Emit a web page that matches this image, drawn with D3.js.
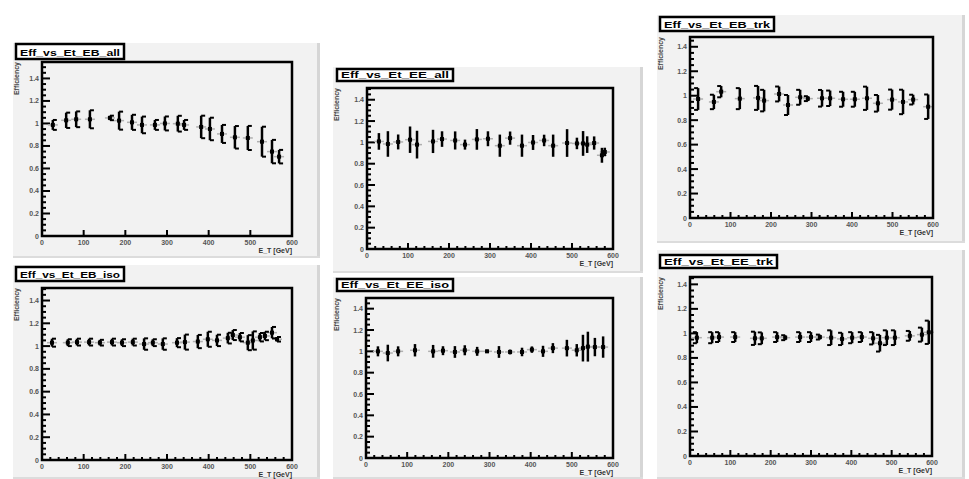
<!DOCTYPE html>
<html>
<head>
<meta charset="utf-8">
<script src="https://cdn.jsdelivr.net/npm/d3@7"></script>
<style>
  body { margin: 0; background: #fff; }
  svg { display: block; font-family: "Liberation Sans", Arial, sans-serif; }
</style>
</head>
<body>
<svg id="chart" width="969" height="479"></svg>
<script>
// ---- data ----
const titles = ["Eff_vs_Et_EB_all", "Eff_vs_Et_EE_all", "Eff_vs_Et_EB_trk", "Eff_vs_Et_EB_iso", "Eff_vs_Et_EE_iso", "Eff_vs_Et_EE_trk"];
const yTitles = ["Efficiency", "Efficiency", "Efficiency", "Efficiency", "Efficiency", "Efficiency"];
const xTitles = ["E_T [GeV]", "E_T [GeV]", "E_T [GeV]", "E_T [GeV]", "E_T [GeV]", "E_T [GeV]"];
const xTicks = [0, 100, 200, 300, 400, 500, 600];
const yTicks = [0, 0.2, 0.4, 0.6, 0.8, 1, 1.2, 1.4];
const yMax = [1.546, 1.51, 1.48, 1.51, 1.5, 1.46];

const x1 = [26, 58, 82, 115, 163, 185, 216, 240, 271, 295, 326, 341, 382, 403, 432, 463, 494, 528, 552, 569];
const y1 = [0.987, 1.028, 1.037, 1.037, 1.049, 1.025, 1.01, 0.987, 0.987, 1.0, 0.998, 0.987, 0.969, 0.951, 0.907, 0.877, 0.871, 0.838, 0.75, 0.705];
const e1 = [0.044, 0.068, 0.07, 0.08, 0.02, 0.08, 0.067, 0.074, 0.044, 0.062, 0.07, 0.044, 0.1, 0.1, 0.08, 0.1, 0.107, 0.133, 0.104, 0.06];

const x2 = [29, 51, 76, 105, 122, 161, 183, 215, 239, 268, 295, 324, 349, 378, 405, 432, 454, 488, 512, 527, 537, 554, 573, 580];
const y2 = [1.009, 0.985, 1.004, 1.025, 0.979, 1.009, 1.031, 1.018, 0.979, 1.028, 1.034, 0.969, 1.04, 0.969, 0.999, 1.018, 0.969, 0.994, 0.99, 0.99, 0.979, 0.994, 0.879, 0.91];
const e2 = [0.078, 0.12, 0.07, 0.124, 0.13, 0.109, 0.073, 0.085, 0.047, 0.097, 0.07, 0.104, 0.062, 0.104, 0.07, 0.054, 0.104, 0.13, 0.054, 0.116, 0.078, 0.062, 0.07, 0.04];

const x3 = [20, 59, 77, 123, 168, 183, 220, 242, 272, 291, 326, 346, 378, 407, 437, 464, 499, 526, 551, 588];
const y3 = [0.973, 0.949, 1.033, 0.976, 0.982, 0.96, 1.014, 0.924, 0.987, 0.976, 0.979, 0.979, 0.971, 0.971, 0.979, 0.938, 0.968, 0.949, 0.968, 0.91];
const e3 = [0.089, 0.059, 0.046, 0.086, 0.098, 0.088, 0.061, 0.082, 0.061, 0.02, 0.068, 0.063, 0.061, 0.061, 0.095, 0.068, 0.082, 0.1, 0.04, 0.1];

const x4 = [24, 62, 84, 113, 139, 168, 192, 218, 245, 266, 290, 324, 343, 374, 398, 420, 446, 458, 475, 494, 506, 523, 535, 552, 564];
const y4 = [1.03, 1.03, 1.035, 1.035, 1.03, 1.035, 1.03, 1.035, 1.018, 1.03, 1.018, 1.03, 1.035, 1.04, 1.06, 1.05, 1.07, 1.097, 1.078, 1.03, 1.049, 1.078, 1.089, 1.118, 1.06];
const e4 = [0.035, 0.03, 0.03, 0.03, 0.025, 0.03, 0.03, 0.03, 0.05, 0.03, 0.05, 0.04, 0.066, 0.058, 0.066, 0.05, 0.047, 0.044, 0.037, 0.066, 0.08, 0.037, 0.037, 0.05, 0.02];

const x5 = [29, 53, 78, 119, 163, 187, 216, 240, 270, 294, 323, 350, 379, 403, 430, 454, 488, 512, 527, 539, 556, 576];
const y5 = [1.0, 0.984, 1.0, 1.01, 1.0, 1.006, 0.994, 1.01, 1.0, 1.0, 0.994, 0.994, 0.994, 1.016, 1.0, 1.03, 1.03, 1.01, 1.03, 1.044, 1.04, 1.04];
const e5 = [0.047, 0.078, 0.047, 0.058, 0.06, 0.042, 0.055, 0.047, 0.042, 0.016, 0.055, 0.023, 0.04, 0.03, 0.052, 0.047, 0.078, 0.058, 0.125, 0.14, 0.086, 0.1];

const x6 = [17, 55, 72, 112, 161, 178, 216, 236, 273, 300, 322, 350, 377, 402, 426, 454, 471, 488, 508, 545, 575, 592];
const y6 = [0.965, 0.965, 0.97, 0.97, 0.96, 0.96, 0.97, 0.965, 0.97, 0.97, 0.97, 0.965, 0.955, 0.965, 0.97, 0.96, 0.92, 0.965, 0.965, 0.98, 0.99, 1.009];
const e6 = [0.045, 0.045, 0.04, 0.04, 0.054, 0.048, 0.04, 0.02, 0.04, 0.04, 0.02, 0.06, 0.05, 0.045, 0.04, 0.05, 0.068, 0.06, 0.06, 0.04, 0.057, 0.095];

const series = [[x1, y1, e1], [x2, y2, e2], [x3, y3, e3], [x4, y4, e4], [x5, y5, e5], [x6, y6, e6]];

// ---- layout of the six pads (pixels) ----
const pads = [
  { pad: [13, 43, 320, 258], frame: [42, 62, 292, 236], bracket: 1, xMinor: false, title: [16, 44, 124, 59] },
  { pad: [333, 67, 643, 273], frame: [367, 88, 613, 249], bracket: 0, xMinor: true, title: [337, 69, 453, 81] },
  { pad: [657, 15, 965, 243], frame: [690, 37, 933, 218], bracket: -1, xMinor: true, title: [660, 17, 774, 31] },
  { pad: [13, 265, 320, 479], frame: [42, 288, 292, 460], bracket: 1, xMinor: true, title: [16, 267, 124, 281] },
  { pad: [333, 277, 643, 479], frame: [366, 298, 613, 458], bracket: 0, xMinor: true, title: [337, 279, 453, 291] },
  { pad: [657, 250, 965, 479], frame: [690, 277, 932, 456], bracket: -1, xMinor: true, title: [660, 255, 777, 268] }
];

const svg = d3.select("#chart");

pads.forEach((p, i) => {
  const [px0, py0, px1, py1] = p.pad;
  const [fx0, fy0, fx1, fy1] = p.frame;
  const g = svg.append("g");

  // pad with ROOT-like bevel
  g.append("rect").attr("x", px0).attr("y", py0).attr("width", px1 - px0).attr("height", py1 - py0).attr("fill", "#f2f2f2");
  g.append("rect").attr("x", px1 - 3).attr("y", py0).attr("width", 3).attr("height", py1 - py0).attr("fill", "#d6d6d6");
  g.append("rect").attr("x", px0).attr("y", py1 - 2).attr("width", px1 - px0).attr("height", 2).attr("fill", "#dcdcdc");

  const x = d3.scaleLinear().domain([0, 600]).range([fx0, fx1]);
  const y = d3.scaleLinear().domain([0, yMax[i]]).range([fy1, fy0]);

  // ticks
  const yMinor = d3.range(0, yMax[i], 0.05).filter(v => Math.abs(v / 0.2 - Math.round(v / 0.2)) > 1e-6);
  g.selectAll(".ymin").data(yMinor).enter().append("line")
    .attr("x1", fx0).attr("x2", fx0 + 4).attr("y1", d => y(d)).attr("y2", d => y(d))
    .attr("stroke", "#000").attr("stroke-width", 2);
  g.selectAll(".ymaj").data(yTicks.slice(1)).enter().append("line")
    .attr("x1", fx0).attr("x2", fx0 + 8).attr("y1", d => y(d)).attr("y2", d => y(d))
    .attr("stroke", "#000").attr("stroke-width", 2);
  if (p.xMinor) {
    const xMinorVals = d3.range(0, 600, 20).filter(v => v % 100 !== 0);
    g.selectAll(".xmin").data(xMinorVals).enter().append("line")
      .attr("x1", d => x(d)).attr("x2", d => x(d)).attr("y1", fy1).attr("y2", fy1 - 3)
      .attr("stroke", "#000").attr("stroke-width", 2);
  }
  g.selectAll(".xmaj").data(xTicks.slice(1, -1)).enter().append("line")
    .attr("x1", d => x(d)).attr("x2", d => x(d)).attr("y1", fy1).attr("y2", fy1 - 6)
    .attr("stroke", "#000").attr("stroke-width", 2);

  // tick labels
  g.selectAll(".ylab").data(yTicks).enter().append("text")
    .attr("x", fx0 - 3).attr("y", d => y(d) + 2.5)
    .attr("text-anchor", "end").attr("font-size", 7).attr("font-weight", "bold").attr("fill", "#555")
    .text(d => d === 0 || d === 1 ? String(d) : d.toFixed(1));
  g.selectAll(".xlab").data(xTicks).enter().append("text")
    .attr("x", d => x(d)).attr("y", fy1 + 9)
    .attr("text-anchor", "middle").attr("font-size", 7).attr("font-weight", "bold").attr("fill", "#555")
    .text(d => d);

  // axis titles
  g.append("text").attr("transform", `translate(${px0 + 6},${fy0}) rotate(-90)`)
    .attr("text-anchor", "end").attr("font-size", 7).attr("font-weight", "bold").attr("fill", "#444").text(yTitles[i]);
  g.append("text").attr("x", fx1).attr("y", fy1 + 17)
    .attr("text-anchor", "end").attr("font-size", 7).attr("font-weight", "bold").attr("fill", "#333").text(xTitles[i]);

  // data points
  const [xs, ys, es] = series[i];
  const pts = xs.map((v, k) => ({ x: v, y: ys[k], e: es[k] }));
  const pg = g.append("g");
  pg.selectAll(".xe").data(pts).enter().append("line")
    .attr("x1", d => x(d.x) - 5).attr("x2", d => x(d.x) + 5)
    .attr("y1", d => y(d.y)).attr("y2", d => y(d.y))
    .attr("stroke", "#b0b0b0").attr("stroke-width", 1.5);
  pg.selectAll(".ye").data(pts).enter().append("line")
    .attr("x1", d => x(d.x)).attr("x2", d => x(d.x))
    .attr("y1", d => y(d.y - d.e)).attr("y2", d => y(d.y + d.e))
    .attr("stroke", "#000").attr("stroke-width", 2.5);
  if (p.bracket !== 0) {
    pg.selectAll(".br").data(pts.flatMap(d => [[d, d.y + d.e], [d, d.y - d.e]])).enter().append("line")
      .attr("x1", d => x(d[0].x)).attr("x2", d => x(d[0].x) + 4 * p.bracket)
      .attr("y1", d => y(d[1])).attr("y2", d => y(d[1]))
      .attr("stroke", "#000").attr("stroke-width", 2);
  }
  pg.selectAll(".mk").data(pts).enter().append("rect")
    .attr("x", d => x(d.x) - 2).attr("y", d => y(d.y) - 2)
    .attr("width", 4).attr("height", 4).attr("fill", "#000");

  // frame
  g.append("rect").attr("x", fx0).attr("y", fy0).attr("width", fx1 - fx0).attr("height", fy1 - fy0)
    .attr("fill", "none").attr("stroke", "#000").attr("stroke-width", 2.5);

  // title box
  const [tx0, ty0, tx1, ty1] = p.title;
  g.append("rect").attr("x", tx0).attr("y", ty0).attr("width", tx1 - tx0).attr("height", ty1 - ty0)
    .attr("fill", "#fff").attr("stroke", "#000").attr("stroke-width", 2.5);
  g.append("text").attr("x", (tx0 + tx1) / 2).attr("y", ty1 - 3.5)
    .attr("text-anchor", "middle").attr("font-size", 9).attr("font-weight", "bold")
    .attr("textLength", tx1 - tx0 - 8).attr("lengthAdjust", "spacingAndGlyphs")
    .text(titles[i]);
});
</script>
</body>
</html>
